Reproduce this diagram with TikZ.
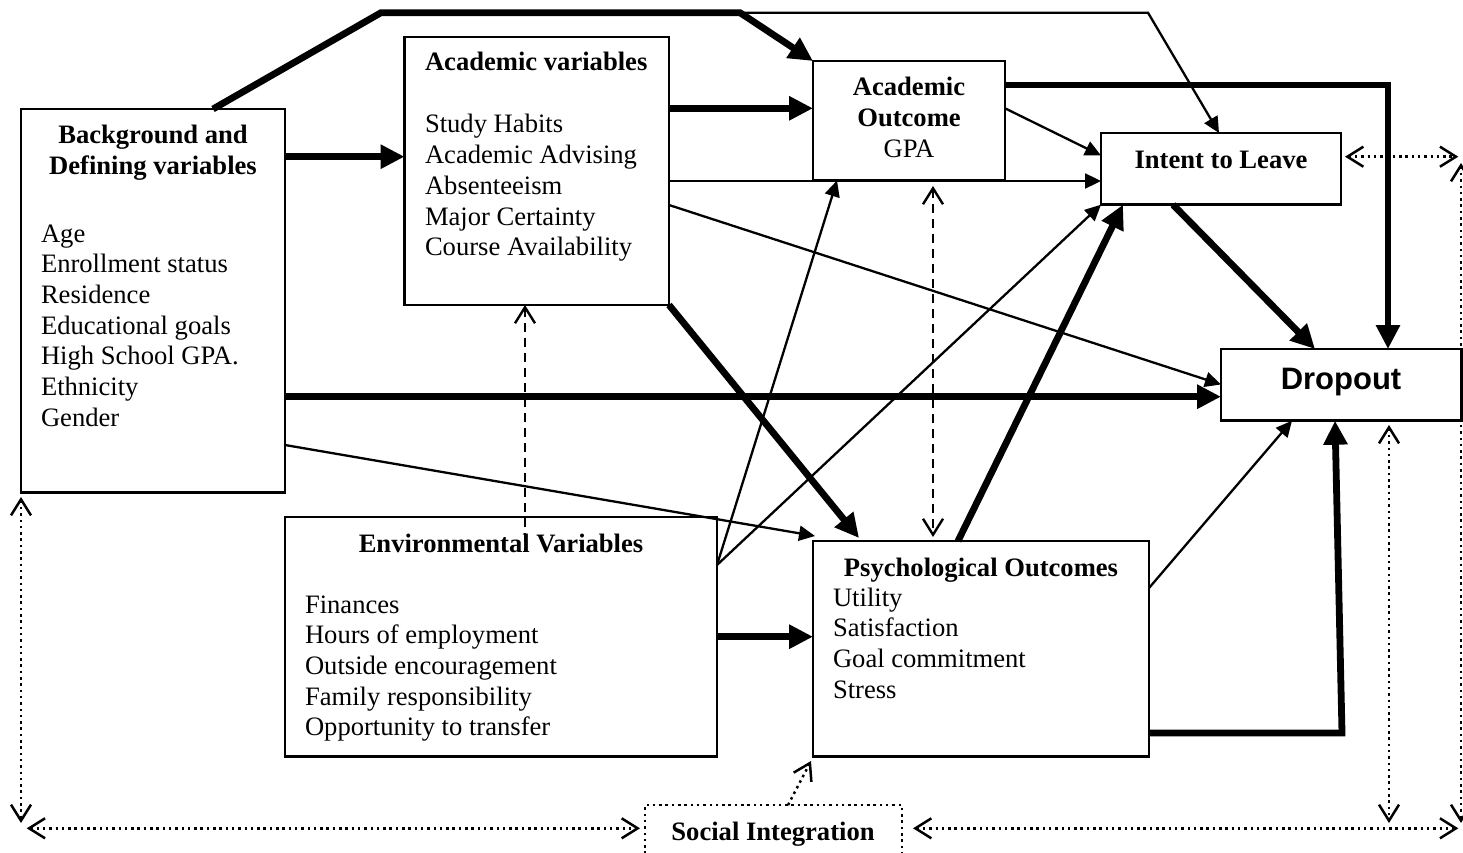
\documentclass[tikz,border=0pt]{standalone}
\usepackage{fontspec}
\setmainfont{Liberation Serif}
\newfontfamily\dropfont{Liberation Sans}
\usetikzlibrary{arrows.meta}
\begin{document}
\begin{tikzpicture}[x=1pt,y=-1pt,
  box/.style={draw, line width=2.5pt, inner sep=0pt, outer sep=0pt},
  txt/.style={inner sep=0pt, outer sep=0pt, font=\fontsize{26.6}{30.7}\selectfont},
  ttl/.style={inner sep=0pt, outer sep=0pt, font=\fontsize{26.6}{30.7}\selectfont\bfseries},
  thk/.style={line width=6.8pt, -{Triangle[length=24pt,width=23pt]}},
  thn/.style={line width=2.3pt, -{Triangle[length=16pt,width=15pt]}},
  dsh/.style={line width=2.4pt, dash pattern=on 9pt off 6pt},
  dtd/.style={line width=2.5pt, dash pattern=on 2.5pt off 3.8pt},
  barbs/.style={{Straight Barb[length=16pt,width=20pt]}-{Straight Barb[length=16pt,width=20pt]}},
  barbend/.style={-{Straight Barb[length=16pt,width=20pt]}},
  barbstart/.style={{Straight Barb[length=16pt,width=20pt]}-}
]
\fill[white] (0,0) rectangle (1463,853);
\useasboundingbox (0,0) rectangle (1463,853);

% boxes
\node[box, minimum width=264pt, minimum height=383.7pt] (bg) at (153,300.85) {};
\node[box, minimum width=264.5pt, minimum height=268pt] (acad) at (536.75,171) {};
\node[box, minimum width=192pt, minimum height=119.5pt] (ao) at (909,120.75) {};
\node[box, minimum width=240pt, minimum height=71.7pt] (intent) at (1221,168.85) {};
\node[box, minimum width=240.5pt, minimum height=71.7pt] (drop) at (1341.25,384.85) {};
\node[box, minimum width=432pt, minimum height=239.7pt] (env) at (501,636.85) {};
\node[box, minimum width=336pt, minimum height=215.7pt] (psych) at (981,648.85) {};
\node[box, dtd, minimum width=257pt, minimum height=57pt] (soc) at (773.5,833.5) {};

% texts
\node[ttl, anchor=base] (bgt) at (153,144) {\begin{tabular}[t]{@{}c@{}}Background and\\Defining variables\end{tabular}};
\node[txt, anchor=base west] (bgl) at (41,242) {\begin{tabular}[t]{@{}l@{}}Age\\Enrollment status\\Residence\\Educational goals\\High School GPA.\\Ethnicity\\Gender\end{tabular}};
\node[ttl, anchor=base west] (acadt) at (425,71) {Academic variables};
\node[txt, anchor=base west] (acadl) at (425,133) {\begin{tabular}[t]{@{}l@{}}Study Habits\\Academic Advising\\Absenteeism\\Major Certainty\\Course Availability\end{tabular}};
\node[txt, anchor=base] (aot) at (909,96) {\begin{tabular}[t]{@{}c@{}}\textbf{Academic}\\\textbf{Outcome}\\GPA\end{tabular}};
\node[ttl, anchor=base] (intentt) at (1221,169) {Intent to Leave};
\node[inner sep=0pt, anchor=base, font=\fontsize{31}{36}\dropfont\bfseries] (dropt) at (1341,389) {Dropout};
\node[ttl, anchor=base] (envt) at (501,552) {Environmental Variables};
\node[txt, anchor=base west] (envl) at (305,613) {\begin{tabular}[t]{@{}l@{}}Finances\\Hours of employment\\Outside encouragement\\Family responsibility\\Opportunity to transfer\end{tabular}};
\node[ttl, anchor=base] (psycht) at (981,576) {Psychological Outcomes};
\node[txt, anchor=base west] (psychl) at (833,606) {\begin{tabular}[t]{@{}l@{}}Utility\\Satisfaction\\Goal commitment\\Stress\end{tabular}};
\node[ttl, anchor=base] (soct) at (773,840) {Social Integration};

% free points
\coordinate (k1) at (381,12.7);
\coordinate (k2) at (740,12.7);
\coordinate (k3) at (1148,12.7);
\coordinate (k5) at (1342,733);
\coordinate (p10) at (815,536);
\coordinate (p11) at (859,538);
\coordinate (dashend) at (525,551);
\coordinate (gpatip) at (933,186);
\coordinate (psytip) at (933,537);
\coordinate (sitip) at (811,761);
\coordinate (L1) at (21,497);
\coordinate (L2) at (21,823);
\coordinate (B1) at (26.7,828.3);
\coordinate (B2) at (640,828.3);
\coordinate (B3) at (913,828.3);
\coordinate (B4) at (1458.3,828.3);
\coordinate (R1) at (1389,425);
\coordinate (R2) at (1389,823);
\coordinate (E1) at (1461,163);
\coordinate (E2) at (1461,823);
\coordinate (I1) at (1345,156.7);
\coordinate (I2) at (1458.3,156.7);

% connectors
\draw[thk] (bg.north -| 213,0) -- (k1) -- (k2) -- (ao.north west);
\draw[thn] (k2) -- (k3) -- (intent.north -| 1219,0);
\draw[thk] (bg.east |- 0,156.7) -- (acad.west |- 0,156.7);
\draw[thk] (acad.east |- 0,108.3) -- (ao.west |- 0,108.3);
\draw[thn] (acad.east |- 0,181) -- (intent.west |- 0,181);
\draw[thn] (ao.east |- 0,108.3) -- (intent.west |- 0,155.5);
\draw[thk] (ao.east |- 0,85) -| (drop.north -| 1388,0);
\draw[thn] (acad.east |- 0,205) -- (drop.west |- 0,384.5);
\draw[thk] (bg.east |- 0,396.7) -- (drop.west |- 0,396.7);
\draw[thn] (bg.east |- 0,445) -- (p10);
\draw[thk] (acad.south east) -- (p11);
\draw[dsh, barbstart] (acad.south -| 525,0) -- (dashend);
\draw[dsh, barbs] (gpatip) -- (psytip);
\draw[thn] (env.east |- 0,565) -- (ao.south -| 837,0);
\draw[thn] (env.east |- 0,565) -- (intent.south west);
\draw[thk] (psych.north -| 958,0) -- (intent.south -| 1123,0);
\draw[thk] (intent.south -| 1173,0) -- (drop.north -| 1315,0);
\draw[thn] (psych.east |- 0,588) -- (drop.south -| 1292,0);
\draw[thk] (psych.east |- 0,733) -- (k5) -- (drop.south -| 1335,0);
\draw[thk] (env.east |- 0,636.7) -- (psych.west |- 0,636.7);
\draw[dtd, barbend] (soc.north -| 788,0) -- (sitip);
\draw[dtd, barbs] (L1) -- (L2);
\draw[dtd, barbs] (B1) -- (B2);
\draw[dtd, barbs] (B3) -- (B4);
\draw[dtd, barbs] (R1) -- (R2);
\draw[dtd, barbs] (E1) -- (E2);
\draw[dtd, barbs] (I1) -- (I2);
\end{tikzpicture}
\end{document}
